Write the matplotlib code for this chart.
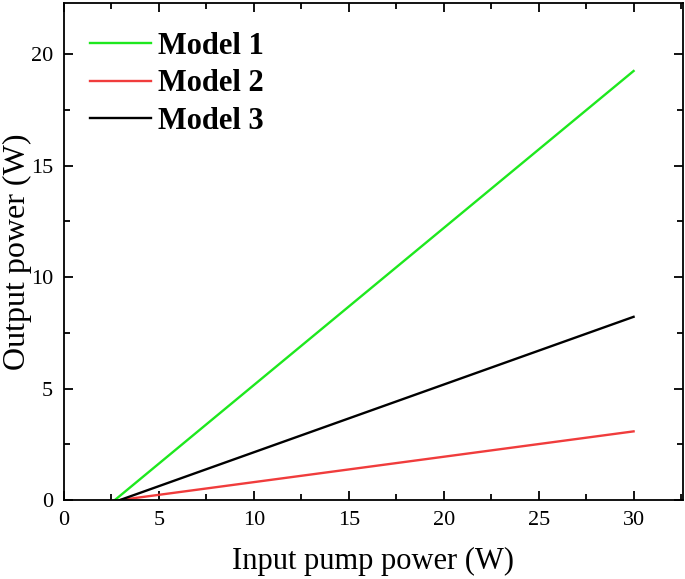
import matplotlib
matplotlib.use("Agg")
import matplotlib.pyplot as plt
from matplotlib.ticker import MultipleLocator

plt.rcParams['font.family'] = ['Liberation Serif', 'DejaVu Serif']
plt.rcParams['mathtext.fontset'] = 'stix'

# Data (linear output vs pump: threshold point and end point)
model_names = ["Model 1", "Model 2", "Model 3"]
pump_m1 = [2.68, 30.0]
out_m1 = [0.0, 19.25]
pump_m2 = [2.95, 30.0]
out_m2 = [0.0, 3.08]
pump_m3 = [2.95, 30.0]
out_m3 = [0.0, 8.22]
colors = ["#1ee81e", "#f03c3c", "#000000"]

fig = plt.figure(figsize=(6.85, 5.79), dpi=100)
ax = fig.add_axes([0.0934, 0.1364, 0.9036, 0.8584])

ax.plot(pump_m1, out_m1, color=colors[0], lw=1.7, label=model_names[0])
ax.plot(pump_m2, out_m2, color=colors[1], lw=1.7, label=model_names[1])
ax.plot(pump_m3, out_m3, color=colors[2], lw=1.7, label=model_names[2])

ax.set_xlim(0, 32.6)
ax.set_ylim(0, 22.3)
ax.xaxis.set_major_locator(MultipleLocator(5))
ax.xaxis.set_minor_locator(MultipleLocator(2.5))
ax.yaxis.set_major_locator(MultipleLocator(5))
ax.yaxis.set_minor_locator(MultipleLocator(2.5))
ax.tick_params(which='both', direction='in', top=True, right=True, width=1.3,
               labelsize=16)
ax.tick_params(which='major', length=6.5)
ax.tick_params(which='minor', length=4)
ax.tick_params(axis='x', pad=8)
ax.tick_params(axis='y', pad=8)
for s in ax.spines.values():
    s.set_linewidth(1.3)

ax.set_xlabel("Input pump power (W)", fontsize=22, labelpad=12)
ax.set_ylabel("Output power (W)", fontsize=23)
ax.yaxis.set_label_coords(-0.051, 0.5)

leg = ax.legend(loc='upper left', frameon=False, prop={'size': 22, 'weight': 'bold'},
                handlelength=1.97, handletextpad=0.26, labelspacing=0.28,
                borderaxespad=0.3, bbox_to_anchor=(0.008, 0.985))

fig.savefig("out.png", dpi=100)
